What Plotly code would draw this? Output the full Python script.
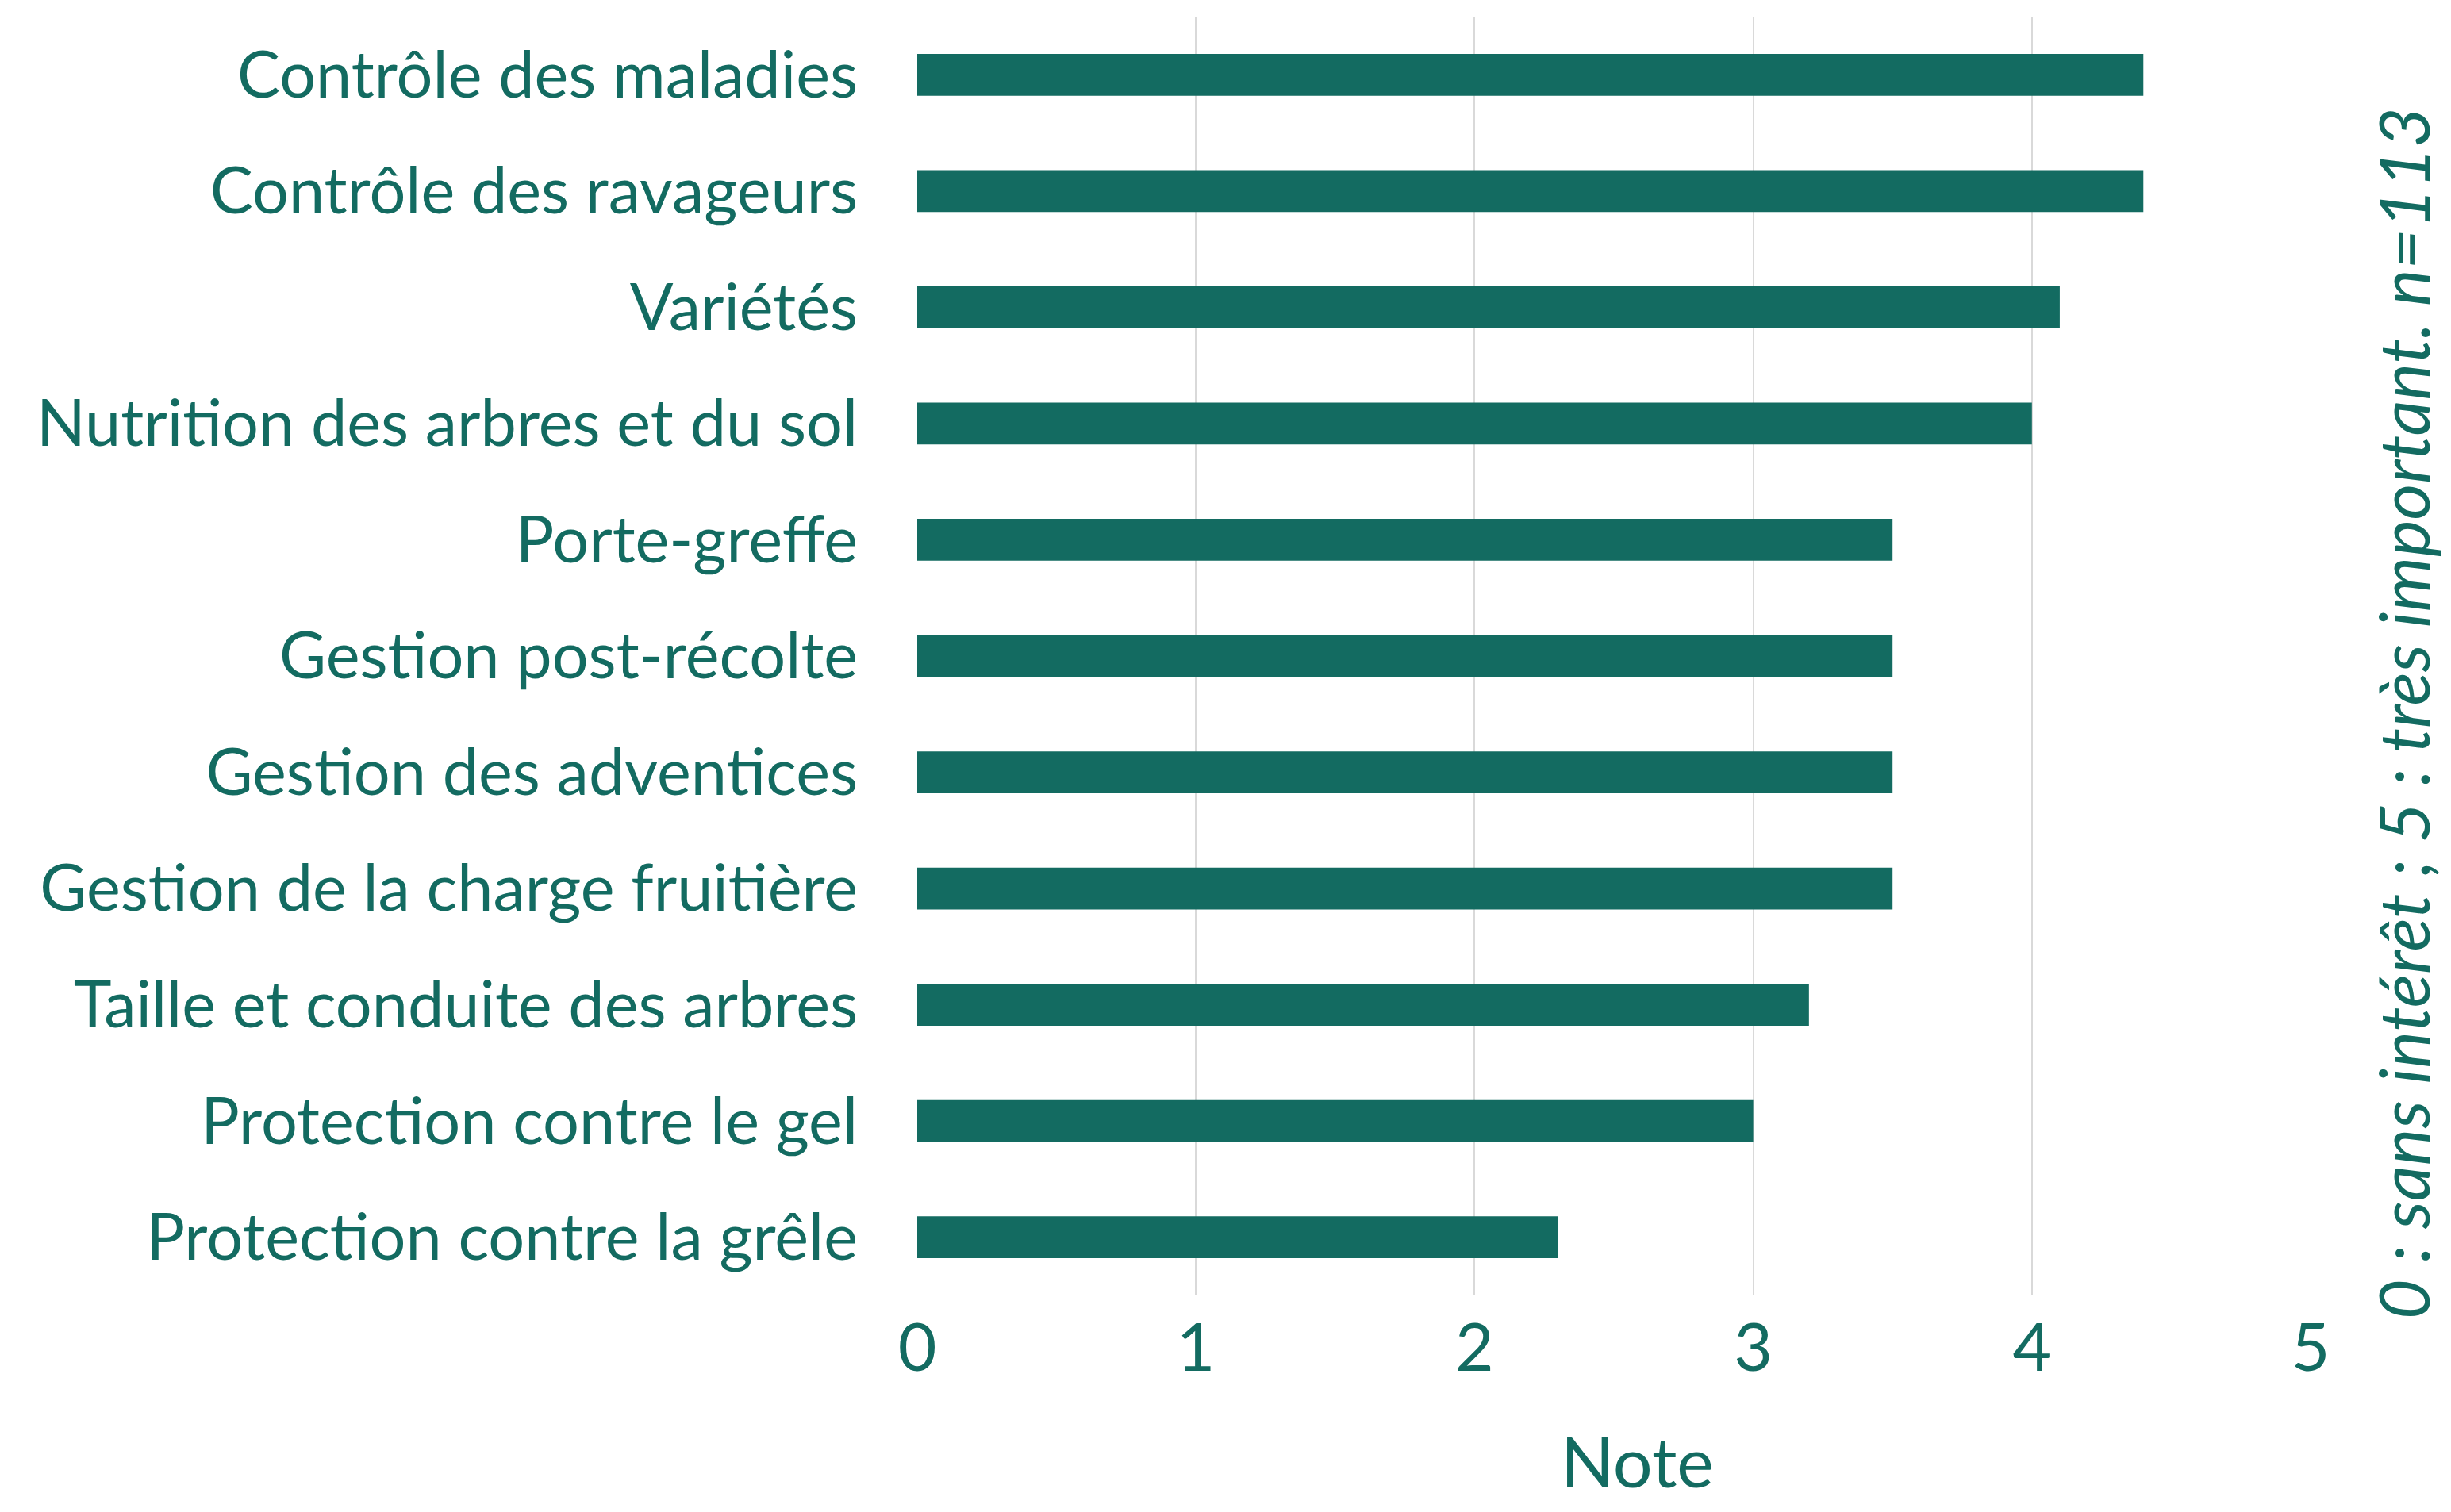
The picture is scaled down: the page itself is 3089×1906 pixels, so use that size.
import plotly.graph_objects as go

categories = [
    "Contrôle des maladies",
    "Contrôle des ravageurs",
    "Variétés",
    "Nutrition des arbres et du sol",
    "Porte-greffe",
    "Gestion post-récolte",
    "Gestion des adventices",
    "Gestion de la charge fruitière",
    "Taille et conduite des arbres",
    "Protection contre le gel",
    "Protection contre la grêle",
]
notes = [4.4, 4.4, 4.1, 4.0, 3.5, 3.5, 3.5, 3.5, 3.2, 3.0, 2.3]
x_ticks = [0, 1, 2, 3, 4, 5]
x_title = "Note"
side_note = "0 : sans intérêt ; 5 : très important. n=113"

GREEN = "#136B61"
FONT = "Lato"

fig = go.Figure(
    go.Bar(
        y=categories,
        x=notes,
        orientation="h",
        marker=dict(color=GREEN, line=dict(width=0)),
        width=0.36,
    )
)

fig.update_layout(
    width=3089,
    height=1906,
    margin=dict(l=1156, r=177, t=21, b=273),
    paper_bgcolor="white",
    plot_bgcolor="white",
    showlegend=False,
    font=dict(family=FONT, color=GREEN),
)

fig.update_xaxes(
    range=[0, 5],
    tickvals=x_ticks,
    ticktext=[str(v) for v in x_ticks],
    showgrid=True,
    gridcolor="#D9D9D9",
    gridwidth=2,
    zeroline=False,
    showline=False,
    ticks="",
    tickfont=dict(size=84, family=FONT, color=GREEN),
    ticklabelstandoff=10,
)

fig.update_yaxes(
    categoryorder="array",
    categoryarray=categories[::-1],
    autorange=False,
    range=[-0.5, len(categories) - 0.5],
    showgrid=False,
    zeroline=False,
    showline=False,
    ticks="",
    tickfont=dict(size=81, family=FONT, color=GREEN),
    ticklabelstandoff=74,
)

fig.add_annotation(
    text=x_title,
    xref="paper",
    yref="paper",
    x=0.517,
    y=-0.129,
    xanchor="center",
    yanchor="middle",
    showarrow=False,
    borderpad=0,
    font=dict(size=88, family=FONT, color=GREEN),
)

fig.add_annotation(
    text=side_note,
    xref="paper",
    yref="paper",
    x=1.066,
    y=0.455,
    xanchor="center",
    yanchor="middle",
    textangle=-90,
    showarrow=False,
    borderpad=0,
    font=dict(size=88, family=FONT, color=GREEN, style="italic"),
)

fig.write_html("out.html")
